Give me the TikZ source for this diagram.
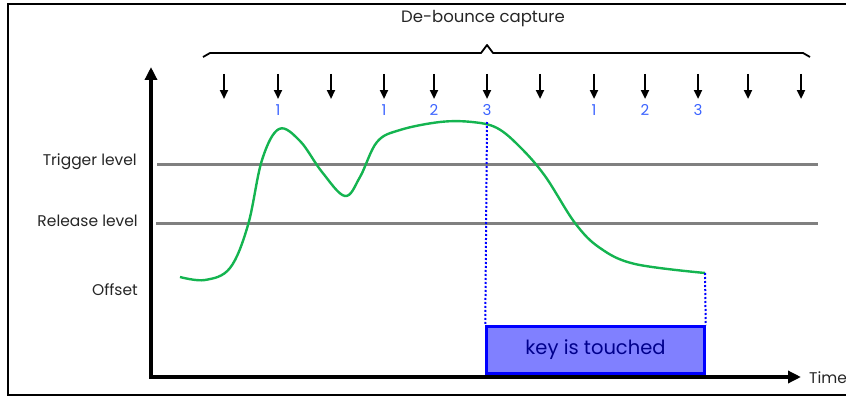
\documentclass[tikz,border=0pt]{standalone}
\usepackage{fontspec}
\setmainfont{Poppins}
\usetikzlibrary{arrows.meta}
\definecolor{sigGreen}{RGB}{20,180,80}
\definecolor{numBlue}{RGB}{60,100,255}
\definecolor{boxFill}{RGB}{128,128,255}
\definecolor{lvlGray}{RGB}{128,128,128}
\tikzset{
  frameline/.style={line width=2pt, black},
  axisline/.style={line width=4pt, black, -{Triangle[length=13pt,width=12pt]}},
  samplearrow/.style={line width=2.2pt, black, -{Triangle[length=9pt,width=8pt]}},
  levelline/.style={line width=3pt, lvlGray},
  lbl/.style={font=\fontsize{15.5}{17}\selectfont, text=black!85, inner sep=0pt},
  num/.style={font=\fontsize{15}{17}\selectfont, text=numBlue, inner sep=0pt},
  dotline/.style={blue, line width=2pt, dash pattern=on 2pt off 2pt},
  keybox/.style={draw=blue, line width=2.5pt, fill=boxFill, minimum width=218pt, minimum height=47pt, inner sep=0pt, font=\fontsize{19.5}{22}\selectfont, text=blue!55!black},
  signal/.style={sigGreen, line width=2.4pt}
}
\begin{document}
\begin{tikzpicture}[x=1pt,y=-1pt]
\useasboundingbox (0,0) rectangle (846,396);
% outer frame
\draw[frameline] (850,4) -- (8,4) -- (8,395) -- (850,395);
% title and brace
\node[lbl, font=\fontsize{16.5}{18}\selectfont] (title) at (483,19) {De-bounce capture};
\coordinate (bl) at (203,57);
\coordinate (br) at (810,57);
\coordinate (bm) at (487,45);
\draw[line width=1.8pt, line join=round] (bl) -- (210,53) -- (481,53) -- (bm) -- (493,53) -- (803,53) -- (br);
% axes
\coordinate (origin) at (151,377);
\coordinate (ytop) at (151,67);
\coordinate (xend) at (801,377);
\draw[axisline] (origin) -- (ytop);
\draw[axisline] ([xshift=-2pt]origin) -- (xend);
\node[lbl, anchor=west] (time) at (809,378) {Time};
% levels
\coordinate (t0) at (157,164); \coordinate (t1) at (818,164);
\coordinate (r0) at (156,223); \coordinate (r1) at (818,223);
\draw[levelline] (t0) -- (t1);
\draw[levelline] (r0) -- (r1);
\node[lbl, anchor=east] (trig) at (137,162) {Trigger level};
\node[lbl, anchor=east] (rel) at (138,221) {Release level};
\node[lbl, anchor=east] (off) at (138,290) {Offset};
% sample arrows
\foreach \i/\x in {1/224,2/278,3/331,4/384,5/434,6/487,7/540,8/594,9/645,10/698,11/748,12/801} {
  \coordinate (sa\i) at (\x,74);
  \coordinate (sb\i) at (\x,99);
  \draw[samplearrow] (sa\i) -- (sb\i);
}
% counts
\foreach \n/\x/\t in {a/278/1,b/384/1,c/434/2,d/487/3,e/594/1,f/645/2,g/698/3} {
  \node[num] (c\n) at (\x,110) {\t};
}
% signal
\draw[signal] plot[smooth, tension=0.6] coordinates {
 (180,277) (205,280) (230,268) (248,225) (262,160) (279,129)
 (300,141) (322,172) (345,196) (360,177) (377,142)
 (400,130) (440,122) (472,122) (497,128) (520,147) (545,176)
 (575,223) (600,248) (635,264) (705,273)};
% key box
\node[keybox] (key) at (595.5,350) {key is touched};
\coordinate (d1) at (487,122);
\coordinate (d2) at (705,273);
\draw[dotline] (d1) -- (key.north west);
\draw[dotline] (d2) -- (key.north east);
\end{tikzpicture}
\end{document}
